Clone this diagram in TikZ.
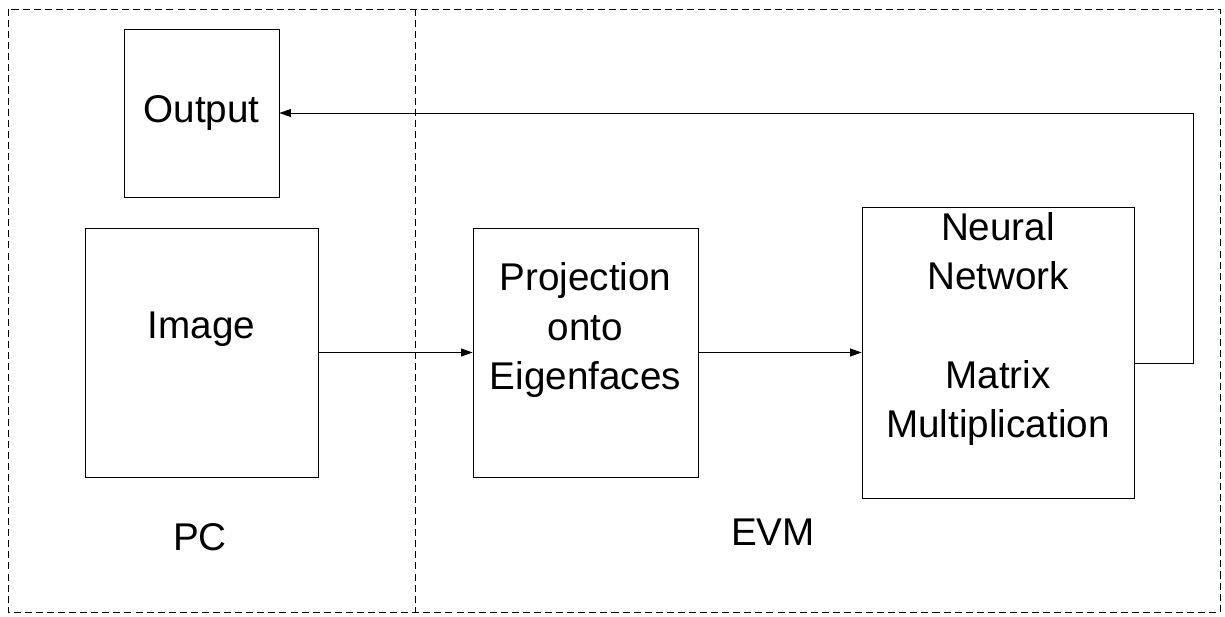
\documentclass[tikz,border=0pt]{standalone}
\usepackage{fontspec}
\setmainfont{Liberation Sans}
\usetikzlibrary{arrows.meta}
\tikzset{
    box/.style={draw, line width=0.5pt, inner sep=0pt, font=\fontsize{22}{28}\selectfont},
    lbl/.style={align=center, inner sep=0pt, font=\fontsize{22}{28}\selectfont},
    zone/.style={draw, line width=0.5pt, dash pattern=on 4pt off 2.3pt},
    conn/.style={line width=0.5pt, -{Triangle[length=6.5pt,width=4.5pt]}}
}

\begin{document}
\begin{tikzpicture}[x=0.02cm, y=-0.02cm]
        \useasboundingbox (0,0) rectangle (1225,616);

        \draw[zone] (8,9) rectangle (1220,612);
        \draw[zone] (415.5,9) -- (415.5,612);
        \node[lbl] (pc)  at (200,537) {PC};
        \node[lbl] (evm) at (773,532) {EVM};

        \node[box, minimum width=3.1cm,  minimum height=3.36cm] (out)  at (201.5,113)   {Output};
        \node[box, minimum width=4.66cm, minimum height=4.98cm] (img)  at (201.5,352.5) {};
        \node[box, minimum width=4.5cm,  minimum height=4.98cm] (proj) at (585.5,352.5) {};
        \node[box, minimum width=5.44cm, minimum height=5.82cm] (nn)   at (998,352.5)   {};

        \node[lbl, yshift=0.47cm] (imgtext)  at (img.center)  {Image};
        \node[lbl, yshift=0.45cm] (projtext) at (proj.center) {Projection\\onto\\Eigenfaces};
        \node[lbl, yshift=0.47cm] (nntext)   at (nn.center)   {Neural\\Network\\[28pt]Matrix\\Multiplication};

        \coordinate (turn) at (1193,113);

        \draw[conn] (img)  -- (proj);
        \draw[conn] (proj) -- (nn);
        \draw[conn] ([yshift=-0.22cm]nn.east) -| (turn) -- (out.east);
    \end{tikzpicture}
\end{document}
